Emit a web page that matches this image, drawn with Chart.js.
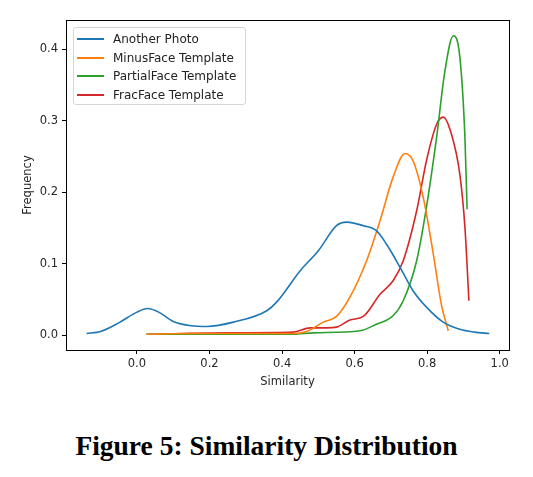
<!DOCTYPE html>
<html>
<head>
<meta charset="utf-8">
<script src="https://cdn.jsdelivr.net/npm/chart.js@4/dist/chart.umd.min.js"></script>
<style>
  body { margin: 0; background: #fff; width: 533px; height: 477px; overflow: hidden; }
  #wrap { position: relative; width: 533px; height: 400px; }
  #legend {
    position: absolute; left: 73px; top: 27px; width: 173px; height: 78px;
    border: 1px solid #d6d6d6; border-radius: 3px; background: rgba(255,255,255,0.8);
    box-sizing: border-box; font-family: "DejaVu Sans", sans-serif; font-size: 12px; color: #222;
  }
  .row { position: absolute; left: 3px; height: 18px; line-height: 18px; white-space: nowrap; }
  .row span.sw { position: absolute; left: 0; top: 8px; width: 27px; height: 2px; }
  .row span.tx { position: absolute; left: 36px; top: 0; }
  #caption {
    position: absolute; left: 0; top: 430px; width: 533px; text-align: center;
    font-family: "Liberation Serif", "DejaVu Serif", serif; font-weight: bold; font-size: 27.5px; color: #000;
  }
</style>
</head>
<body>
<div id="wrap">
  <canvas id="chart" width="533" height="400"></canvas>
  <div id="legend"></div>
</div>
<div id="caption">Figure 5: Similarity Distribution</div>
<script>
// Similarity (x) / frequency (y)
const seriesNames = ['Another Photo', 'MinusFace Template', 'PartialFace Template', 'FracFace Template'];
const seriesColors = ['#1f77b4', '#ff7f0e', '#2ca02c', '#d62728'];

const anotherX = [-0.139, -0.10, -0.05, 0.0, 0.029, 0.06, 0.10, 0.15, 0.193, 0.266, 0.358, 0.385, 0.45, 0.50, 0.55, 0.578, 0.624, 0.66, 0.688, 0.725, 0.761, 0.798, 0.844, 0.89, 0.93, 0.971];
const anotherY = [0.002, 0.005, 0.017, 0.032, 0.037, 0.032, 0.019, 0.013, 0.012, 0.018, 0.034, 0.046, 0.090, 0.118, 0.153, 0.158, 0.153, 0.146, 0.127, 0.095, 0.062, 0.039, 0.018, 0.008, 0.004, 0.002];

const minusX = [0.026, 0.15, 0.30, 0.431, 0.468, 0.514, 0.55, 0.587, 0.633, 0.67, 0.706, 0.739, 0.761, 0.789, 0.817, 0.839, 0.858];
const minusY = [0.001, 0.002, 0.002, 0.002, 0.005, 0.018, 0.026, 0.053, 0.104, 0.160, 0.221, 0.254, 0.244, 0.193, 0.113, 0.043, 0.006];

const partialX = [0.026, 0.20, 0.431, 0.486, 0.615, 0.66, 0.706, 0.734, 0.771, 0.798, 0.826, 0.849, 0.872, 0.89, 0.904, 0.91];
const partialY = [0.001, 0.001, 0.001, 0.003, 0.006, 0.015, 0.027, 0.048, 0.104, 0.179, 0.277, 0.370, 0.419, 0.389, 0.277, 0.176];

const fracX = [0.029, 0.248, 0.431, 0.477, 0.523, 0.55, 0.587, 0.624, 0.67, 0.706, 0.734, 0.771, 0.798, 0.826, 0.844, 0.867, 0.89, 0.904, 0.915];
const fracY = [0.001, 0.003, 0.004, 0.010, 0.010, 0.011, 0.021, 0.026, 0.057, 0.076, 0.104, 0.174, 0.244, 0.295, 0.305, 0.281, 0.225, 0.151, 0.048];

const xTicks = [0.0, 0.2, 0.4, 0.6, 0.8, 1.0];
const yTicks = [0.0, 0.1, 0.2, 0.3, 0.4];

const allX = [anotherX, minusX, partialX, fracX];
const allY = [anotherY, minusY, partialY, fracY];

const tickFont = { family: 'DejaVu Sans', size: 11.5 };
const textColor = '#262626';

const datasets = seriesNames.map((name, i) => ({
    label: name,
    data: allX[i].map((x, j) => ({ x: x, y: allY[i][j] })),
    borderColor: seriesColors[i],
    backgroundColor: seriesColors[i],
    borderWidth: 1.6,
    pointRadius: 0,
    fill: false,
    cubicInterpolationMode: 'monotone'
}));

// frame around the plot like matplotlib spines
const framePlugin = {
    id: 'frame',
    afterDatasetsDraw(chart) {
        const a = chart.chartArea, ctx = chart.ctx;
        ctx.save();
        ctx.strokeStyle = '#000';
        ctx.lineWidth = 1;
        ctx.strokeRect(a.left + 0.5, a.top + 0.5, a.right - a.left, a.bottom - a.top);
        ctx.restore();
    }
};

new Chart(document.getElementById('chart'), {
    type: 'line',
    data: { datasets: datasets },
    options: {
        responsive: false,
        animation: false,
        layout: { padding: { left: 0, right: 24, top: 20, bottom: 0 } },
        plugins: { legend: { display: false }, tooltip: { enabled: false } },
        scales: {
            x: {
                type: 'linear', min: -0.1955, max: 1.0255,
                afterBuildTicks: s => { s.ticks = xTicks.map(v => ({ value: v })); },
                afterFit: s => { s.height = 50; },
                ticks: { font: tickFont, color: textColor, padding: 3, maxRotation: 0, callback: v => v.toFixed(1) },
                grid: { drawOnChartArea: false, drawTicks: true, tickLength: 4, color: '#000' },
                border: { display: false },
                title: { display: true, text: 'Similarity', font: tickFont, color: textColor, padding: { top: 0, bottom: 11 } }
            },
            y: {
                type: 'linear', min: -0.021, max: 0.441,
                afterBuildTicks: s => { s.ticks = yTicks.map(v => ({ value: v })); },
                afterFit: s => { s.width = 66; },
                ticks: { font: tickFont, color: textColor, padding: 4, callback: v => v.toFixed(1) },
                grid: { drawOnChartArea: false, drawTicks: true, tickLength: 4, color: '#000' },
                border: { display: false },
                title: { display: true, text: 'Frequency', font: tickFont, color: textColor, padding: { top: 21, bottom: 0 } }
            }
        }
    },
    plugins: [framePlugin]
});

const legend = document.getElementById('legend');
seriesNames.forEach((name, i) => {
    const row = document.createElement('div');
    row.className = 'row';
    row.style.top = (2 + i * 18.5) + 'px';
    row.innerHTML = '<span class="sw" style="background:' + seriesColors[i] + '"></span><span class="tx">' + name + '</span>';
    legend.appendChild(row);
});
</script>
</body>
</html>
